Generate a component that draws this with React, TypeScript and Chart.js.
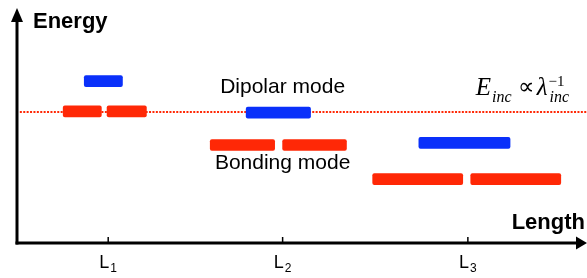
import React, { useEffect, useRef } from "react";
import { Chart, registerables } from "chart.js";

Chart.register(...registerables);

// ---- data (arbitrary units: length 0..100, energy 0..10) ----
const tickValues = [16.0, 46.6, 79.1];
const tickLabels = ["L", "L", "L"];
const tickSubscripts = ["1", "2", "3"];

const blueStarts = [11.8, 40.2, 70.5];
const blueEnds = [18.5, 51.5, 86.5];
const blueEnergies = [6.89, 5.55, 4.26];

const redStarts = [8.1, 15.8, 33.9, 46.6, 62.4, 79.6];
const redEnds = [14.8, 22.7, 45.2, 57.8, 78.2, 95.4];
const redEnergies = [5.6, 5.6, 4.17, 4.17, 2.72, 2.72];

const refLineX = [0.5, 100];
const refLineY = [5.57, 5.57];

const xAxisTitle = "Length";
const yAxisTitle = "Energy";
const dipolarLabel = "Dipolar mode";
const bondingLabel = "Bonding mode";

const X_MIN = 0;
const X_MAX = 100;
const Y_MIN = 0;
const Y_MAX = 10;

const RED = "#ff2806";
const BLUE = "#0a30fa";
const SANS = "'Liberation Sans', Arial, sans-serif";
const SERIF = "'Liberation Serif', 'Times New Roman', serif";

const decorPlugin = {
  id: "decor",
  afterDatasetsDraw(chart: any) {
    const ctx: CanvasRenderingContext2D = chart.ctx;
    const { top, right } = chart.chartArea;
    const xs = chart.scales.x;
    const ys = chart.scales.y;
    const x0 = xs.getPixelForValue(X_MIN);
    const y0 = ys.getPixelForValue(Y_MIN);
    ctx.save();
    ctx.strokeStyle = "#000";
    ctx.fillStyle = "#000";
    ctx.lineWidth = 3;
    ctx.lineCap = "butt";
    // y axis
    ctx.beginPath();
    ctx.moveTo(x0, y0 + 1.5);
    ctx.lineTo(x0, top + 10);
    ctx.stroke();
    ctx.beginPath();
    ctx.moveTo(x0, top);
    ctx.lineTo(x0 - 6, top + 14);
    ctx.lineTo(x0 + 6, top + 14);
    ctx.closePath();
    ctx.fill();
    // x axis
    ctx.beginPath();
    ctx.moveTo(x0 - 1.5, y0);
    ctx.lineTo(right - 8, y0);
    ctx.stroke();
    ctx.beginPath();
    ctx.moveTo(right, y0);
    ctx.lineTo(right - 11, y0 - 6.5);
    ctx.lineTo(right - 11, y0 + 6.5);
    ctx.closePath();
    ctx.fill();

    // ticks + labels
    ctx.lineWidth = 1.5;
    tickValues.forEach((v, i) => {
      const px = xs.getPixelForValue(v);
      ctx.beginPath();
      ctx.moveTo(px, y0 - 6);
      ctx.lineTo(px, y0);
      ctx.stroke();
      ctx.font = `18px ${SANS}`;
      const wL = ctx.measureText(tickLabels[i]).width;
      ctx.font = `12px ${SANS}`;
      const wS = ctx.measureText(tickSubscripts[i]).width;
      const start = px - (wL + 1 + wS) / 2;
      ctx.textAlign = "left";
      ctx.textBaseline = "alphabetic";
      ctx.font = `18px ${SANS}`;
      ctx.fillText(tickLabels[i], start, y0 + 25);
      ctx.font = `12px ${SANS}`;
      ctx.fillText(tickSubscripts[i], start + wL + 1, y0 + 29);
    });

    // axis titles
    ctx.font = `bold 22px ${SANS}`;
    ctx.textAlign = "left";
    ctx.fillText(yAxisTitle, x0 + 16, top + 20);
    ctx.textAlign = "right";
    ctx.fillText(xAxisTitle, right - 2, y0 - 14);

    // mode labels
    ctx.font = `21px ${SANS}`;
    ctx.textAlign = "center";
    const lx = xs.getPixelForValue(tickValues[1]);
    ctx.fillText(dipolarLabel, lx, ys.getPixelForValue(6.38));
    ctx.fillText(bondingLabel, lx, ys.getPixelForValue(3.15));

    // formula E_inc ∝ λ_inc^-1
    const fx = xs.getPixelForValue(80.5);
    const fy = ys.getPixelForValue(6.3);
    ctx.textAlign = "left";
    let cx = fx;
    ctx.font = `italic 25px ${SERIF}`;
    ctx.fillText("E", cx, fy);
    cx += ctx.measureText("E").width + 1;
    ctx.font = `italic 16px ${SERIF}`;
    ctx.fillText("inc", cx, fy + 7);
    cx += ctx.measureText("inc").width + 6;
    ctx.font = `23px ${SERIF}`;
    ctx.fillText("\u221D", cx, fy - 1);
    cx += ctx.measureText("\u221D").width + 3;
    ctx.font = `italic 25px ${SERIF}`;
    ctx.fillText("\u03BB", cx, fy);
    cx += ctx.measureText("\u03BB").width;
    ctx.font = `15px ${SERIF}`;
    ctx.fillText("\u22121", cx + 1, fy - 9);
    ctx.font = `italic 16px ${SERIF}`;
    ctx.fillText("inc", cx + 2, fy + 7);
    ctx.restore();
  },
};

export default function App() {
  const ref = useRef<HTMLCanvasElement | null>(null);
  useEffect(() => {
    if (!ref.current) return;
    const chart = new Chart(ref.current, {
      type: "bar",
      data: {
        datasets: [
          {
            type: "bar",
            indexAxis: "y",
            data: blueStarts.map((s, i) => ({ x: [s, blueEnds[i]], y: blueEnergies[i] })),
            backgroundColor: BLUE,
            borderRadius: 2,
            borderSkipped: false,
            barThickness: 11,
            grouped: false,
            order: 1,
          } as any,
          {
            type: "bar",
            indexAxis: "y",
            data: redStarts.map((s, i) => ({ x: [s, redEnds[i]], y: redEnergies[i] })),
            backgroundColor: RED,
            borderRadius: 2,
            borderSkipped: false,
            barThickness: 11,
            grouped: false,
            order: 1,
          } as any,
          {
            type: "line",
            indexAxis: "x",
            data: refLineX.map((x, i) => ({ x, y: refLineY[i] })),
            borderColor: RED,
            borderWidth: 2,
            borderDash: [2, 1.4],
            pointRadius: 0,
            fill: false,
            order: 3,
          } as any,
        ],
      },
      options: {
        animation: false,
        responsive: false,
        maintainAspectRatio: false,
        events: [],
        layout: { padding: { left: 17, right: 0, top: 8, bottom: 35 } },
        plugins: { legend: { display: false }, tooltip: { enabled: false } },
        scales: {
          x: { type: "linear", min: X_MIN, max: X_MAX, display: false, offset: false, grace: 0 },
          y: { type: "linear", min: Y_MIN, max: Y_MAX, display: false, offset: false, grace: 0 },
        },
      },
      plugins: [decorPlugin],
    } as any);
    return () => chart.destroy();
  }, []);
  return (
    <div style={{ position: "fixed", left: 0, top: 0, width: 587, height: 278, background: "#fff" }}>
      <canvas ref={ref} width={587} height={278} style={{ width: 587, height: 278, display: "block" }} />
    </div>
  );
}
